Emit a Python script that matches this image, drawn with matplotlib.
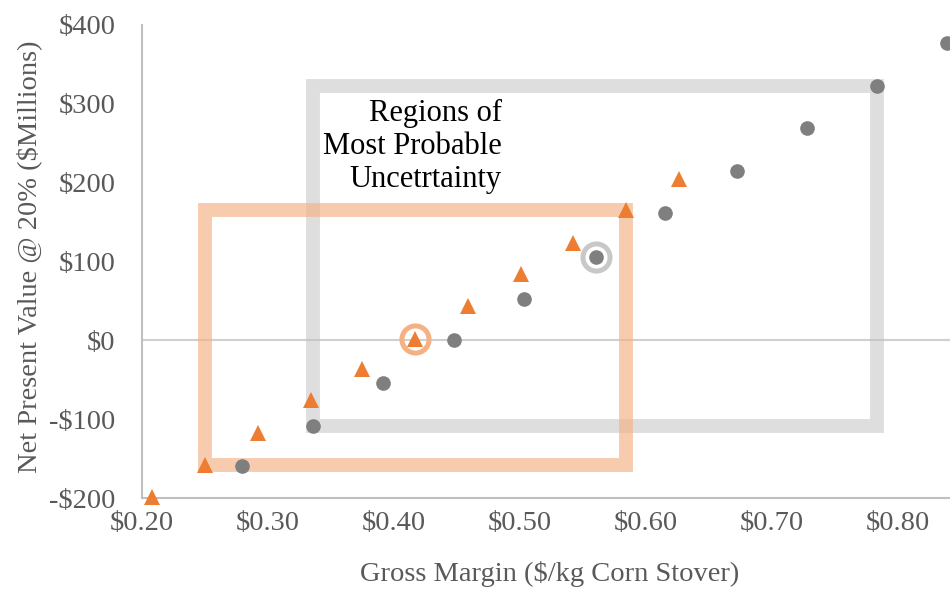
import numpy as np
import matplotlib
matplotlib.use("Agg")
import matplotlib.pyplot as plt
from matplotlib.patches import Rectangle
from matplotlib.ticker import FuncFormatter

# data
tri_x = [0.208, 0.250, 0.292, 0.334, 0.375, 0.417, 0.459, 0.501, 0.542, 0.584, 0.626]
tri_y = [-199, -158, -117, -76, -36, 2, 43, 84, 124, 165, 205]

dot_x = [0.279, 0.336, 0.391, 0.448, 0.503, 0.560, 0.615, 0.672, 0.728, 0.783, 0.839]
dot_y = [-160, -109, -54, 0, 53, 106, 162, 215, 269, 322, 377]

x_ticks = [0.2, 0.3, 0.4, 0.5, 0.6, 0.7, 0.8]
y_ticks = [-200, -100, 0, 100, 200, 300, 400]

note = "Regions of\nMost Probable\nUncetrtainty"


def money_y(v, pos):
    if v < 0:
        return "-${:.0f}".format(-v)
    return "${:.0f}".format(v)


def money_x(v, pos):
    return "${:.2f}".format(v)


plt.rcParams['font.family'] = ['Liberation Serif', 'DejaVu Serif']

fig = plt.figure(figsize=(9.5, 5.9), dpi=100)
ax = fig.add_axes([142 / 950, 92 / 590, 808 / 950, 473 / 590])

ax.set_xlim(0.2, 0.2 + 808 / 1260)
ax.set_ylim(-200, 400)

# boxes go from the 2nd to the 10th point of each series
gray_box = Rectangle((dot_x[1], dot_y[1]), dot_x[9] - dot_x[1], dot_y[9] - dot_y[1],
                     fill=False, edgecolor='#BFBFBF', alpha=0.5, linewidth=10,
                     joinstyle='miter', zorder=2)
orange_box = Rectangle((tri_x[1], tri_y[1]), tri_x[9] - tri_x[1], tri_y[9] - tri_y[1],
                       fill=False, edgecolor='#F4B183', alpha=0.65, linewidth=10,
                       joinstyle='miter', zorder=2)
ax.add_patch(gray_box)
ax.add_patch(orange_box)

# zero line
ax.axhline(0, color='#D0D0D0', linewidth=1.5, zorder=1)

ax.plot(dot_x, dot_y, linestyle='none', marker='o', markersize=9.5,
        color='#7F7F7F', zorder=4)
ax.plot(tri_x, tri_y, linestyle='none', marker='^', markersize=11.5,
        color='#ED7D31', markeredgewidth=0, zorder=4, clip_on=False)

# rings marking the most probable points
ax.plot(tri_x[5], tri_y[5], marker='o', markersize=19.5, markerfacecolor='none',
        markeredgecolor='#F4B183', markeredgewidth=3.6, zorder=3)
ax.plot(dot_x[5], dot_y[5], marker='o', markersize=19.5, markerfacecolor='none',
        markeredgecolor='#C8C8C8', markeredgewidth=3.6, zorder=3)

ax.text(0.4857, 246, note, ha='right', va='center', multialignment='right',
        fontsize=22, color='black', linespacing=1.2, zorder=5)

ax.set_xticks(x_ticks)
ax.set_yticks(y_ticks)
ax.xaxis.set_major_formatter(FuncFormatter(money_x))
ax.yaxis.set_major_formatter(FuncFormatter(money_y))
ax.tick_params(axis='both', length=0, labelsize=20.5, labelcolor='#595959')
ax.tick_params(axis='x', pad=9)
ax.tick_params(axis='y', pad=19)

for side in ['top', 'right']:
    ax.spines[side].set_visible(False)
for side in ['left', 'bottom']:
    ax.spines[side].set_color('#BFBFBF')
    ax.spines[side].set_linewidth(1.5)

ax.set_xlabel("Gross Margin ($/kg Corn Stover)", fontsize=20.5, color='#595959')
ax.set_ylabel("Net Present Value @ 20% ($Millions)", fontsize=20.5, color='#595959')
ax.xaxis.set_label_coords(0.505, -0.134)
ax.yaxis.set_label_coords(-0.124, 0.51)

fig.savefig("out.png", dpi=100)
